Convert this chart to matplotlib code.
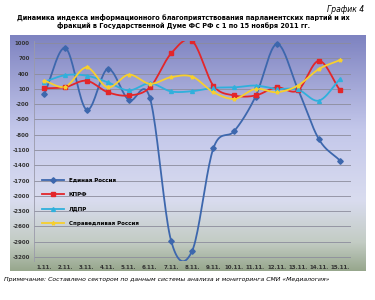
import numpy as np
import matplotlib
matplotlib.use('Agg')
import matplotlib.pyplot as plt
from matplotlib.colors import LinearSegmentedColormap

dates = ['1.11.', '2.11.', '3.11.', '4.11.', '5.11.', '6.11.', '7.11.', '8.11.',
         '9.11.', '10.11.', '11.11.', '12.11.', '13.11.', '14.11.', '15.11.']
edinaya = [0, 900, -310, 490, -120, -80, -2880, -3080, -1070, -725, -50, 980, 100, -890, -1310]
kprf = [110, 135, 260, 35, -30, 130, 795, 1040, 165, -30, -30, 130, 70, 650, 70]
ldpr = [240, 370, 360, 230, 70, 210, 50, 55, 120, 130, 165, 100, 90, -130, 295]
spravedl = [260, 145, 520, 130, 380, 200, 330, 340, 35, -95, 100, 35, 165, 490, 665]

series = [
    ('Единая Россия', edinaya, '#3d67ad', 'D'),
    ('КПРФ', kprf, '#e3262a', 's'),
    ('ЛДПР', ldpr, '#2fb0dc', '^'),
    ('Справедливая Россия', spravedl, '#f7cf2e', '*'),
]
yticks = list(range(1000, -3201, -300))


def smooth(x, y, n=20):
    # catmull-rom curve through the points, like the smoothed lines in excel
    x = np.asarray(x, float)
    y = np.asarray(y, float)
    px = np.concatenate([[2 * x[0] - x[1]], x, [2 * x[-1] - x[-2]]])
    py = np.concatenate([[2 * y[0] - y[1]], y, [2 * y[-1] - y[-2]]])
    t = np.linspace(0, 1, n, endpoint=False)
    xs, ys = [], []
    for i in range(1, len(px) - 2):
        for p, out in ((px, xs), (py, ys)):
            p0, p1, p2, p3 = p[i - 1], p[i], p[i + 1], p[i + 2]
            out.extend(0.5 * (2 * p1 + (-p0 + p2) * t + (2 * p0 - 5 * p1 + 4 * p2 - p3) * t ** 2
                              + (-p0 + 3 * p1 - 3 * p2 + p3) * t ** 3))
    xs.append(x[-1])
    ys.append(y[-1])
    return np.array(xs), np.array(ys)


fig = plt.figure(figsize=(3.75, 3.0), dpi=100)
fig.patch.set_facecolor('white')

# gradient background of the chart box
bg = fig.add_axes([0.027, 0.095, 0.948, 0.79])
cmap = LinearSegmentedColormap.from_list('bg', [
    (0.0, '#7d82c0'), (0.4, '#c3c7ea'), (0.7, '#d9dcef'),
    (0.88, '#c3ccc4'), (1.0, '#97a78d')])
bg.imshow(np.linspace(0, 1, 256).reshape(-1, 1), aspect='auto', cmap=cmap,
          extent=[0, 1, 0, 1])
bg.set_axis_off()

ax = fig.add_axes([0.09, 0.13, 0.845, 0.735])
ax.patch.set_alpha(0)
x = np.arange(len(dates))
for name, vals, color, mk in series:
    sx, sy = smooth(x, vals)
    ax.plot(sx, sy, color=color, lw=1.3, zorder=3)
    ax.plot(x, vals, ls='none', marker=mk, ms=2.8, color=color, zorder=4)
    ax.plot([], [], color=color, lw=1.3, marker=mk, ms=2.8, label=name)

ax.set_ylim(-3280, 1050)
ax.set_xlim(-0.5, len(dates) - 0.5)
ax.set_yticks(yticks)
ax.set_yticklabels([str(v) for v in yticks])
ax.set_xticks(x)
ax.set_xticklabels(dates)
ax.tick_params(labelsize=4, colors='#333333', length=0, pad=3)
for lbl in ax.get_xticklabels() + ax.get_yticklabels():
    lbl.set_fontweight('bold')
ax.grid(axis='y', color='#8c8c9c', lw=0.6)
for s in ['top', 'right', 'bottom']:
    ax.spines[s].set_visible(False)
ax.spines['left'].set_color('#9a9aaa')
ax.spines['left'].set_linewidth(0.6)

leg = ax.legend(loc='upper left', bbox_to_anchor=(0.01, 0.4), frameon=False,
                prop={'size': 4, 'weight': 'bold'}, handlelength=4, labelspacing=1.7)

fig.text(0.97, 0.985, 'График 4', ha='right', va='top', fontsize=5.5, style='italic')
fig.text(0.49, 0.955, 'Динамика индекса информационного благоприятствования парламентских партий и их\n'
         'фракций в Государственной Думе ФС РФ с 1 по 15 ноября 2011 гг.',
         ha='center', va='top', fontsize=4.7, fontweight='bold', linespacing=1.2)
fig.text(0.01, 0.075, 'Примечание: Составлено сектором по данным системы анализа и мониторинга СМИ «Медиалогия»',
         ha='left', va='top', fontsize=4.4, style='italic')

fig.savefig('out.png', dpi=100)
